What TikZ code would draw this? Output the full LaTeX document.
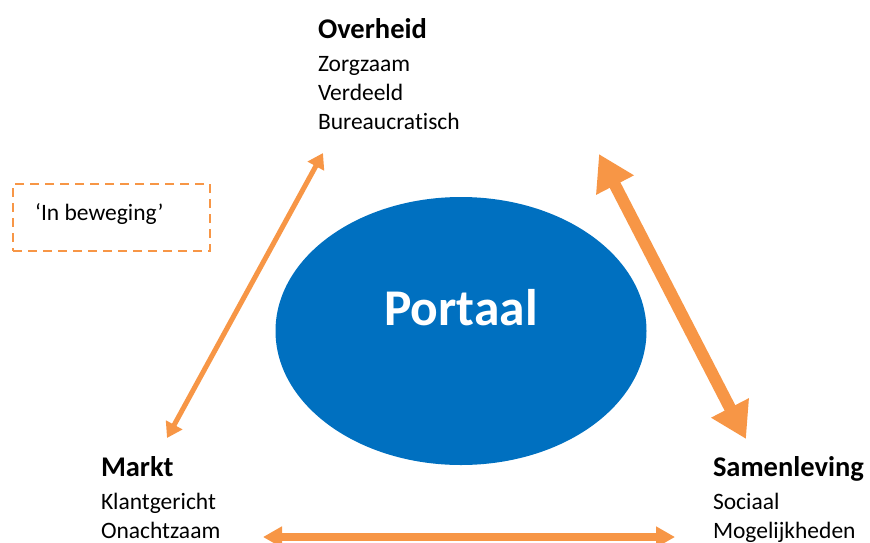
\documentclass[tikz,border=0pt]{standalone}
\usepackage{fontspec}
\setmainfont[Ligatures=NoCommon]{Carlito}
\usetikzlibrary{arrows.meta,shapes.geometric}
\definecolor{orng}{HTML}{F79646}
\definecolor{portblue}{HTML}{0070C0}
\tikzset{
  label group/.style={anchor=base west, inner sep=0pt, outer sep=0pt, font=\fontsize{23.5}{29}\selectfont},
  thin link/.style={orng, line width=5pt, {Triangle[length=15pt,width=18pt]}-{Triangle[length=15pt,width=18pt]}},
  thick link/.style={orng, line width=12pt, {Triangle[length=35pt,width=40pt]}-{Triangle[length=35pt,width=40pt]}},
  mid link/.style={orng, line width=8pt, {Triangle[length=19pt,width=20pt]}-{Triangle[length=19pt,width=20pt]}},
}
\newcommand{\headline}[1]{{\fontsize{28.5}{29}\selectfont\bfseries #1}}
\begin{document}
\begin{tikzpicture}[x=1pt,y=-1pt]
\useasboundingbox (0,0) rectangle (870,542);
% central ellipse
\node (portaal) [ellipse, fill=portblue, minimum width=371pt, minimum height=268pt, inner sep=0pt] at (461,331) {};
\node (portaaltext) [anchor=base, inner sep=0pt, text=white, font=\fontsize{51.5}{60}\selectfont\bfseries] at (461,325) {Portaal};
% text groups
\node (overheid) [label group] at (318,38) {\begin{tabular}[t]{@{}l@{}}\headline{Overheid}\\[4pt] Zorgzaam\\ Verdeeld\\ Bureaucratisch\end{tabular}};
\node (markt) [label group] at (101,476) {\begin{tabular}[t]{@{}l@{}}\headline{Markt}\\[4pt] Klantgericht\\ Onachtzaam\end{tabular}};
\node (samenleving) [label group] at (713,476) {\begin{tabular}[t]{@{}l@{}}\headline{Samenleving}\\[4pt] Sociaal\\ Mogelijkheden\end{tabular}};
% dashed box
\node (beweging) [draw=orng, line width=2.5pt, dash pattern=on 9pt off 6pt, minimum width=197pt, minimum height=67pt, inner sep=0pt] at (111.5,217.5) {};
\node (bewegingtext) [anchor=base west, inner sep=0pt, font=\fontsize{23.5}{29}\selectfont] at (35,220) {`In beweging'};
% arrow end points
\coordinate (mTop) at (323,153);
\coordinate (mBot) at (167,438);
\coordinate (sTop) at (599,154);
\coordinate (sBot) at (746,439);
\coordinate (bL) at (263,537);
\coordinate (bR) at (675,537);
\draw[thin link] (mBot) -- (mTop);
\draw[thick link] (sTop) -- (sBot);
\draw[mid link] (bL) -- (bR);
\end{tikzpicture}
\end{document}
